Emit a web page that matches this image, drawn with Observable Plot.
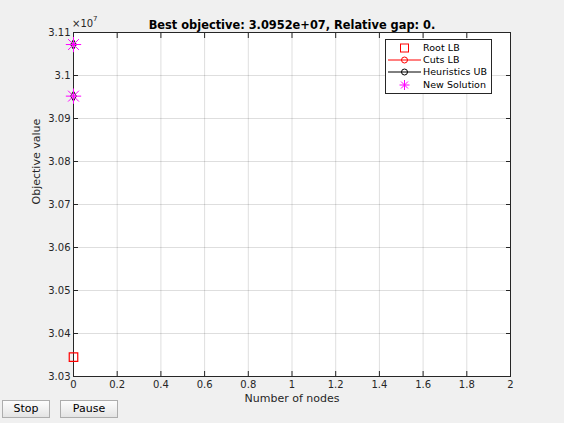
<!DOCTYPE html>
<html>
<head>
<meta charset="utf-8">
<script src="https://cdn.jsdelivr.net/npm/d3@7"></script>
<script src="https://cdn.jsdelivr.net/npm/@observablehq/plot@0.6"></script>
<style>
  html, body { margin: 0; padding: 0; background: #f0f0f0; }
  #wrap { position: relative; width: 564px; height: 423px; overflow: hidden; font-family: "DejaVu Sans", sans-serif; }
  #expo { position: absolute; left: 72px; top: 15px; font-size: 10px; color: #262626; }
  #expo sup { font-size: 7px; vertical-align: 6px; }
  .btn { position: absolute; top: 400px; height: 18px; box-sizing: border-box; border: 1px solid #adadad;
         background: linear-gradient(#fdfdfd, #e4e4e4); font-size: 11px; font-family: "DejaVu Sans", sans-serif;
         color: #000; text-align: center; line-height: 16px; }
  #legend { position: absolute; left: 385px; top: 39px; width: 107px; height: 55px; box-sizing: border-box;
            border: 1px solid #262626; background: #fff; }
</style>
</head>
<body>
<div id="wrap">
  <div id="chart"></div>
  <div id="expo">×10<sup>7</sup></div>
  <div id="legend"></div>
  <div class="btn" style="left:2px;width:48px;">Stop</div>
  <div class="btn" style="left:60px;width:58px;">Pause</div>
</div>
<script>
// ---- data ----
const titleText = "Best objective: 3.0952e+07, Relative gap: 0.";
const xLabel = "Number of nodes";
const yLabel = "Objective value";
const xTicks = [0, 0.2, 0.4, 0.6, 0.8, 1, 1.2, 1.4, 1.6, 1.8, 2];
const yTicks = [3.03e7, 3.04e7, 3.05e7, 3.06e7, 3.07e7, 3.08e7, 3.09e7, 3.1e7, 3.11e7];
const rootNodes = [0];
const rootLB = [30345000];
const heurNodes = [0, 0];
const heuristicsUB = [31072000, 30952000];
const newSolNodes = [0, 0];
const newSolution = [31072000, 30952000];
const legendLabels = ["Root LB", "Cuts LB", "Heuristics UB", "New Solution"];

const rootData = rootNodes.map((n, i) => ({n, v: rootLB[i]}));
const heurData = heurNodes.map((n, i) => ({n, v: heuristicsUB[i]}));
const solData = newSolNodes.map((n, i) => ({n, v: newSolution[i]}));

const fmtY = d => String(+(d / 1e7).toFixed(2));
const fmtX = d => String(+d.toFixed(1));

const chart = Plot.plot({
  width: 564, height: 423,
  marginLeft: 73, marginRight: 54, marginTop: 32, marginBottom: 47,
  style: {background: "#f0f0f0", fontFamily: "DejaVu Sans, sans-serif", fontSize: "10px", color: "#262626"},
  x: {domain: [0, 2]},
  y: {domain: [3.03e7, 3.11e7]},
  marks: [
    Plot.frame({fill: "white", stroke: "none"}),
    Plot.gridX(xTicks, {stroke: "#000", strokeOpacity: 0.13}),
    Plot.gridY(yTicks, {stroke: "#000", strokeOpacity: 0.13}),
    Plot.frame({stroke: "#262626"}),
    Plot.axisX(xTicks, {anchor: "bottom", tickSize: -5, tickPadding: 9, tickFormat: fmtX, label: null}),
    Plot.axisX(xTicks, {anchor: "top", tickSize: -5, tickFormat: () => "", label: null}),
    Plot.axisY(yTicks, {anchor: "left", tickSize: -5, tickPadding: 8, tickFormat: fmtY, label: null}),
    Plot.axisY(yTicks, {anchor: "right", tickSize: -5, tickFormat: () => "", label: null}),
    Plot.text([xLabel], {frameAnchor: "bottom", dy: 25, fontSize: 11, fill: "#262626"}),
    Plot.text([yLabel], {frameAnchor: "left", dx: -37, rotate: -90, fontSize: 11, fill: "#262626"}),
    Plot.text([titleText], {frameAnchor: "top", dy: -12, fontWeight: "bold", fontSize: 11.4, fill: "#000"}),
    Plot.dot(rootData, {x: "n", y: "v", symbol: "square", r: 4.8, stroke: "#ff0000", fill: "none", strokeWidth: 1.2}),
    Plot.dot(heurData, {x: "n", y: "v", symbol: "diamond", r: 3, stroke: "#000", fill: "none", strokeWidth: 1}),
    Plot.dot(solData, {x: "n", y: "v", symbol: "plus", r: 5, stroke: "#ff00ff", strokeWidth: 1}),
    Plot.dot(solData, {x: "n", y: "v", symbol: "times", r: 5, stroke: "#ff00ff", strokeWidth: 1})
  ]
});
document.getElementById("chart").appendChild(chart);

// legend
const lg = d3.select("#legend").append("svg").attr("width", 105).attr("height", 53)
  .style("font-family", "DejaVu Sans, sans-serif").style("font-size", "9.5px");
const rows = [8, 20, 32, 45];
legendLabels.forEach((lab, i) => {
  lg.append("text").attr("x", 37).attr("y", rows[i]).attr("dy", "0.35em").attr("fill", "#000")
    .attr("letter-spacing", "0.05px").text(lab);
});
lg.append("rect").attr("x", 14.5).attr("y", rows[0] - 4).attr("width", 8).attr("height", 8).attr("fill", "none").attr("stroke", "#f00");
lg.append("line").attr("x1", 2).attr("x2", 35).attr("y1", rows[1]).attr("y2", rows[1]).attr("stroke", "#f00");
lg.append("circle").attr("cx", 18.5).attr("cy", rows[1]).attr("r", 3).attr("fill", "none").attr("stroke", "#f00");
lg.append("line").attr("x1", 2).attr("x2", 35).attr("y1", rows[2]).attr("y2", rows[2]).attr("stroke", "#000");
lg.append("circle").attr("cx", 18.5).attr("cy", rows[2]).attr("r", 3).attr("fill", "none").attr("stroke", "#000");
const a = lg.append("g").attr("transform", `translate(18.5,${rows[3]})`).attr("stroke", "#f0f");
a.append("path").attr("d", "M-5,0H5M0,-5V5M-3.5,-3.5L3.5,3.5M-3.5,3.5L3.5,-3.5");
</script>
</body>
</html>
